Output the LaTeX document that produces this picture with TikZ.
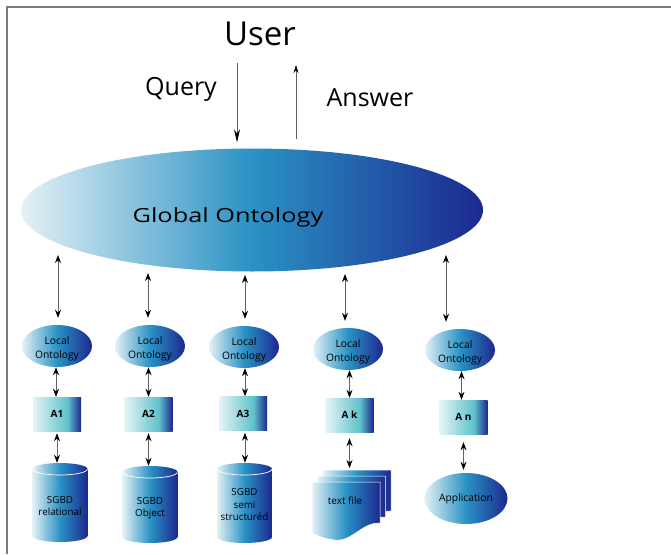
\documentclass[tikz,border=0pt]{standalone}
\usepackage{fontspec}
\setmainfont{Open Sans}
\usetikzlibrary{arrows.meta,shapes.geometric,calc}
\definecolor{pale}{HTML}{E4F1F5}
\definecolor{midblue}{HTML}{2A92C4}
\definecolor{darkblue}{HTML}{1C2890}
\definecolor{tealc}{HTML}{5EC2CC}
\definecolor{boxpale}{HTML}{E6F4F6}
\definecolor{framegray}{HTML}{7A7A7A}
\definecolor{linegray}{HTML}{606060}
\pgfdeclarehorizontalshading{boxshade}{100bp}{color(0bp)=(boxpale); color(25bp)=(boxpale); color(61bp)=(tealc); color(75bp)=(darkblue); color(100bp)=(darkblue)}
\begin{document}
\begin{tikzpicture}[x=1pt,y=1pt,
  bluefill/.style={left color=pale, right color=darkblue, middle color=midblue},
  lonto/.style={ellipse, bluefill, minimum width=70, minimum height=42, inner sep=0,
    label={[inner sep=0, align=center, font=\fontsize{10.3}{13.5}\selectfont, yshift=-3pt]center:{Local\\Ontology}}},
  abox/.style={rectangle, shading=boxshade, minimum width=48, minimum height=34, inner sep=0, font=\fontsize{10}{12}\selectfont\bfseries},
  cylnode/.style={rectangle, inner sep=0, minimum width=55, minimum height=#1, align=center, font=\fontsize{9.8}{12.5}\selectfont,
    path picture={
      \shade[bluefill] ([yshift=-6pt]path picture bounding box.north west) arc[start angle=180, end angle=0, x radius=27.5pt, y radius=6pt]
        -- ([yshift=6pt]path picture bounding box.south east) arc[start angle=0, end angle=-180, x radius=27.5pt, y radius=6pt] -- cycle;
      \draw[white, line width=0.7pt] ([yshift=-6pt]path picture bounding box.north west) arc[start angle=180, end angle=360, x radius=27.5pt, y radius=6pt];
    }},
  dbl/.style={draw=linegray, line width=0.8pt, {Stealth[black,length=8pt,width=6pt]}-{Stealth[black,length=8pt,width=6pt]}},
  pageshade/.style={left color=pale, right color=darkblue, middle color=midblue, draw=white, line width=0.5pt},
  txt/.style={inner sep=0, font=\fontsize{#1}{#1}\selectfont}
]
\useasboundingbox (0,0) rectangle (671,-554);
\fill[white] (0,0) rectangle (671,-554);
\draw[framegray, line width=1.5pt] (7,-554) -- (7,-7) -- (671,-7);

% top
\node[txt=33] (user) at (260,-34) {User};
\node[txt=25] (query) at (181,-89) {Query};
\node[txt=25] (answer) at (370,-98) {Answer};

% global ontology
\node[ellipse, bluefill, minimum width=462, minimum height=123, inner sep=0] (global) at (252,-210) {};
\node[txt=19.5] (gtext) at (228,-217) {\scalebox{1.3}[1]{Global Ontology}};

\coordinate (qtop) at (237,-63);
\coordinate (atop) at (296,-65);
\draw[draw=linegray, line width=0.7pt, -{Stealth[black,length=13pt,width=6pt]}, shorten >=6pt] (qtop) -- (qtop |- global.north);
\draw[draw=linegray, line width=0.7pt, -{Stealth[black,length=8pt,width=5pt]}, shorten <=9pt] (atop |- global.north) -- (atop);

% local ontologies
\node[lonto] (lo1) at (57,-346) {};
\node[lonto] (lo2) at (150,-346) {};
\node[lonto] (lo3) at (244,-347) {};
\node[lonto] (lo4) at (348,-349) {};
\node[lonto] (lo5) at (460,-350) {};

% adapters
\node[abox] (a1) at (57,-414) {A1};
\node[abox] (a2) at (148.5,-414) {A2};
\node[abox] (a3) at (243,-413.5) {A3};
\node[abox] (a4) at (349.5,-415) {A k};
\node[abox] (a5) at (463.5,-417) {A n};

% sources
\node[cylnode=79] (c1) at (60,-502.5) {\\[2pt]SGBD\\relational};
\node[cylnode=77] (c2) at (150,-504.5) {\\[2pt]SGBD\\Object};
\node[cylnode=80] (c3) at (244.5,-503) {\\[-2pt]SGBD\\semi\\structuréd};

% text file pages
\begin{scope}[shift={(11,12)}]
  \shade[pageshade] (312,-482) -- (380,-482) -- (380,-523) .. controls (362,-522) and (352,-542) .. (335,-540) .. controls (325,-539) and (318,-536) .. (312,-533) -- cycle;
\end{scope}
\begin{scope}[shift={(5.5,6)}]
  \shade[pageshade] (312,-482) -- (380,-482) -- (380,-523) .. controls (362,-522) and (352,-542) .. (335,-540) .. controls (325,-539) and (318,-536) .. (312,-533) -- cycle;
\end{scope}
\shade[pageshade] (312,-482) -- (380,-482) -- (380,-523) .. controls (362,-522) and (352,-542) .. (335,-540) .. controls (325,-539) and (318,-536) .. (312,-533) -- cycle;
\node[txt=10] (tf) at (345,-501) {text file};
\coordinate (tftop) at (350,-468);

\node[ellipse, bluefill, minimum width=83, minimum height=51, inner sep=0, font=\fontsize{10.3}{12}\selectfont] (app) at (466,-498.5) {Application};

% global -> local
\coordinate (g1) at (58,-255);
\coordinate (g2) at (148,-273);
\coordinate (g3) at (245,-275);
\coordinate (g4) at (345,-274);
\coordinate (g5) at (446,-255);
\draw[dbl, shorten >=7pt] (g1) -- (g1 |- lo1.north);
\draw[dbl, shorten >=7pt] (g2) -- (g2 |- lo2.north);
\draw[dbl, shorten >=7pt] (g3) -- (g3 |- lo3.north);
\draw[dbl, shorten >=7pt] (g4) -- (g4 |- lo4.north);
\draw[dbl, shorten >=7pt] (g5) -- (g5 |- lo5.north);

% local -> adapters
\draw[dbl] ([xshift=-1pt]a1.north |- lo1.south) -- ([xshift=-1pt]a1.north);
\draw[dbl] (a2.north |- lo2.south) -- (a2.north);
\draw[dbl] ([xshift=2pt]a3.north |- lo3.south) -- ([xshift=2pt]a3.north);
\draw[dbl] (a4.north |- lo4.south) -- (a4.north);
\draw[dbl] ([xshift=-2pt]a5.north |- lo5.south) -- ([xshift=-2pt]a5.north);

% adapters -> sources
\draw[dbl, shorten <=2pt] (a1.south) -- (a1.south |- c1.north);
\draw[dbl, shorten <=2pt] (a2.south) -- (a2.south |- c2.north);
\draw[dbl, shorten <=2pt] ([xshift=2pt]a3.south) -- ([xshift=2pt]a3.south |- c3.north);
\draw[dbl, shorten <=6pt] (a4.south) -- (a4.south |- tftop);
\draw[dbl, shorten <=8pt, shorten >=3pt] (a5.south) -- (a5.south |- app.north);
\end{tikzpicture}
\end{document}
